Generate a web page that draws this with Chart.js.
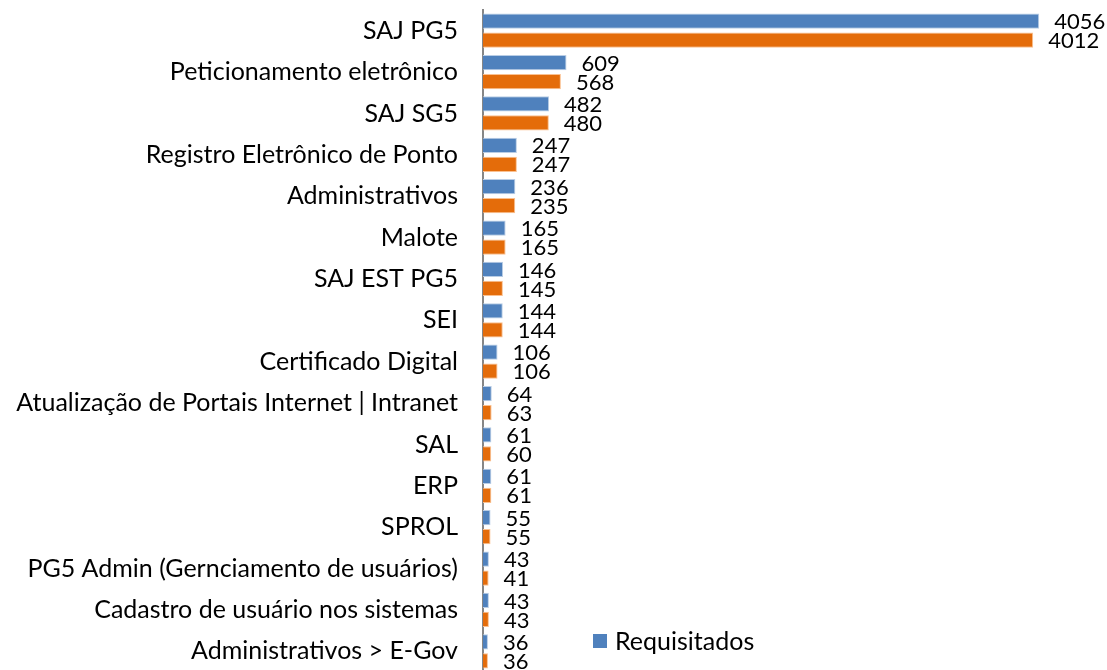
<!DOCTYPE html>
<html>
<head>
<meta charset="utf-8">
<script src="https://cdn.jsdelivr.net/npm/chart.js@4.4.1/dist/chart.umd.min.js"></script>
<style>
  html, body { margin: 0; padding: 0; background: #fff; overflow: hidden; }
  #wrap { width: 1107px; height: 680px; position: relative; }
</style>
</head>
<body>
<div id="wrap"><canvas id="grafico"></canvas></div>
<script>
// Dados do gráfico
const categorias = [
  "SAJ PG5", "Peticionamento eletrônico", "SAJ SG5", "Registro Eletrônico de Ponto",
  "Administrativos", "Malote", "SAJ EST PG5", "SEI", "Certificado Digital",
  "Atualização de Portais Internet | Intranet", "SAL", "ERP", "SPROL",
  "PG5 Admin (Gernciamento de usuários)", "Cadastro de usuário nos sistemas",
  "Administrativos > E-Gov"
];
const requisitados = [4056, 609, 482, 247, 236, 165, 146, 144, 106, 64, 61, 61, 55, 43, 43, 36];
const atendidos = [4012, 568, 480, 247, 235, 165, 145, 144, 106, 63, 60, 61, 55, 41, 43, 36];

const fonte = 'Lato, "Noto Sans", sans-serif';

// rótulos de valor à direita das barras
const rotulosPlugin = {
  id: 'rotulos',
  afterDatasetsDraw(chart) {
    const ctx = chart.ctx;
    ctx.save();
    ctx.font = '22px ' + fonte;
    ctx.fillStyle = '#000';
    ctx.textBaseline = 'middle';
    ctx.textAlign = 'left';
    chart.data.datasets.forEach((ds, i) => {
      chart.getDatasetMeta(i).data.forEach((bar, j) => {
        ctx.fillText(ds.data[j], bar.x + 15, bar.y + 1);
      });
    });
    ctx.restore();
  }
};

// legenda (só a primeira entrada aparece no recorte original)
const legendaPlugin = {
  id: 'legenda',
  afterDraw(chart) {
    const ctx = chart.ctx;
    const ds = chart.data.datasets[0];
    ctx.save();
    ctx.fillStyle = ds.backgroundColor;
    ctx.fillRect(593, 634, 14, 14);
    ctx.fillStyle = '#000';
    ctx.font = '25px ' + fonte;
    ctx.textBaseline = 'middle';
    ctx.fillText(ds.label, 615, 642);
    ctx.restore();
  }
};

new Chart(document.getElementById('grafico'), {
  type: 'bar',
  data: {
    labels: categorias,
    datasets: [
      {
        label: 'Requisitados',
        data: requisitados,
        backgroundColor: '#4F81BD',
        borderColor: '#B9CDE5',
        borderWidth: 1,
        categoryPercentage: 0.92,
        barPercentage: 0.8
      },
      {
        label: 'Atendidos',
        data: atendidos,
        backgroundColor: '#E46C0A',
        borderColor: '#FAC090',
        borderWidth: 1,
        categoryPercentage: 0.92,
        barPercentage: 0.8
      }
    ]
  },
  options: {
    indexAxis: 'y',
    responsive: true,
    maintainAspectRatio: false,
    animation: false,
    layout: { padding: { top: 10, right: 11, bottom: 8, left: 0 } },
    scales: {
      x: {
        display: false,
        min: 0,
        max: 4470
      },
      y: {
        grid: { display: false, drawTicks: false },
        border: { display: true, color: '#868686', width: 2 },
        ticks: {
          color: '#000',
          padding: 25,
          font: { family: fonte, size: 25 }
        },
        afterFit(scale) {
          scale.width = 483;
          scale.paddingTop = 0;
          scale.paddingBottom = 0;
        }
      }
    },
    plugins: {
      legend: { display: false },
      tooltip: { enabled: false }
    }
  },
  plugins: [rotulosPlugin, legendaPlugin]
});
</script>
</body>
</html>
